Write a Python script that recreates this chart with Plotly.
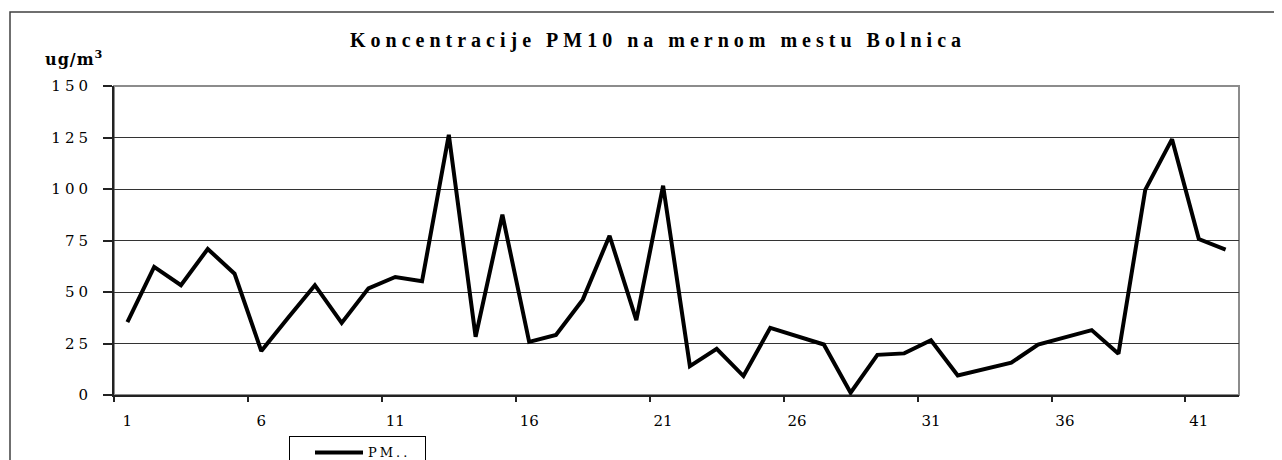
import plotly.graph_objects as go

categories = [str(i) for i in range(1, 43)]
pm10 = [35.4, 62.2, 53.3, 70.9, 58.9, 21.3, 37.5, 53.3, 35.0, 51.8,
        57.3, 55.2, 126.3, 28.3, 87.5, 25.8, 29.1, 46.3, 77.3, 36.3,
        101.6, 14.0, 22.4, 9.2, 32.6, 28.8, 24.5, 1.1, 19.5, 20.2,
        26.6, 9.5, 12.4, 15.7, 24.5, 27.8, 31.5, 20.0, 99.6, 124.2,
        75.7, 70.6]
y_ticks = [0, 25, 50, 75, 100, 125, 150]
x_labels = [c if (i % 5 == 0) else "" for i, c in enumerate(categories)]

title_text = "Koncentracije PM10 na mernom mestu Bolnica"
unit_text = "ug/m<sup>3</sup>"
series_name = "PM.."

FONT = "DejaVu Serif"
TFONT = "Liberation Serif"

def spaced(s, px):
    return '<span style="letter-spacing:%spx">%s</span>' % (px, s)

fig = go.Figure()
fig.add_trace(go.Scatter(
    x=categories, y=pm10, mode="lines", name=spaced(series_name, 3),
    line=dict(color="black", width=4), showlegend=True,
))

# page has an 8px body margin: work in page pixels, convert to figure pixels
OFF = 8
W, H = 1282 - OFF, 460 - OFF
plot_left, plot_right, plot_top, plot_bottom = 114, 1239, 86, 395.5
L = plot_left - OFF
R = W - (plot_right - OFF)
T = plot_top - OFF
B = H - (plot_bottom - OFF)
pw = W - L - R
ph = H - T - B

def px_x(x):
    return (x - plot_left) / pw

def px_y(y):
    return (plot_bottom - y) / ph

fig.update_layout(
    width=W, height=H,
    margin=dict(l=L, r=R, t=T, b=B, autoexpand=False),
    paper_bgcolor="white", plot_bgcolor="white",
    font=dict(family=FONT, color="black", size=14),
    title=dict(
        text=spaced("<b>" + title_text + "</b>", 5),
        x=(658 - OFF) / W, xref="container", xanchor="center",
        y=1 - (40 - OFF) / H, yref="container", yanchor="middle",
        font=dict(family=TFONT, size=20, color="black"),
    ),
    xaxis=dict(
        type="category", categoryorder="array", categoryarray=categories,
        range=[-0.5, 41.5], tickmode="linear", tick0=0, dtick=5,
        tickson="boundaries", ticks="outside", ticklen=5, tickwidth=1.5,
        tickcolor="#222", showline=True, linecolor="#222", linewidth=1.5,
        showgrid=False, zeroline=False, ticklabelstandoff=11,
        tickfont=dict(family=FONT, size=15, color="black"),
    ),
    yaxis=dict(
        range=[0, 150], tickmode="array", tickvals=y_ticks,
        ticktext=[spaced(str(v), 4) for v in y_ticks],
        ticks="outside", ticklen=9, tickwidth=1.5, tickcolor="#222",
        showline=True, linecolor="#222", linewidth=2,
        showgrid=True, gridcolor="#333", gridwidth=1, zeroline=False,
        ticklabelstandoff=8,
        tickfont=dict(family=FONT, size=15, color="black"),
    ),
    legend=dict(
        orientation="h", x=px_x(289), xanchor="left",
        y=px_y(437), yanchor="top", bordercolor="black", borderwidth=1,
        bgcolor="white", entrywidth=52, indentation=20, itemwidth=48,
        font=dict(family=FONT, size=13, color="black"),
    ),
    annotations=[dict(
        text=spaced("<b>" + unit_text + "</b>", 1), x=px_x(43), xref="paper", xanchor="left",
        y=px_y(58), yref="paper", yanchor="middle", showarrow=False,
        font=dict(family=FONT, size=16, color="black"),
    )],
    shapes=[
        dict(type="rect", xref="paper", yref="paper", x0=0, x1=1, y0=0, y1=1,
             line=dict(color="#8c8c8c", width=2), layer="below"),
        dict(type="rect", xref="paper", yref="paper",
             x0=px_x(10), x1=px_x(1300), y0=px_y(12), y1=px_y(480),
             line=dict(color="#404040", width=1.5), layer="below"),
    ],
)

fig.write_html("out.html")
